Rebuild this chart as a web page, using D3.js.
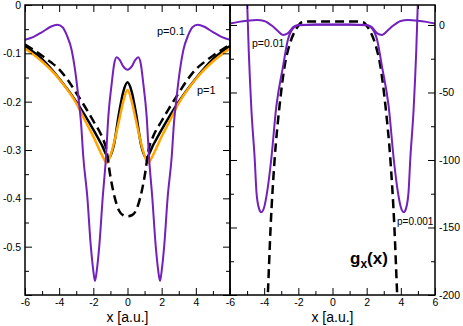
<!DOCTYPE html>
<html>
<head>
<meta charset="utf-8">
<script src="https://cdn.jsdelivr.net/npm/d3@7"></script>
<style>
  body { margin: 0; background: #fff; }
  text { font-family: "Liberation Sans", Arial, sans-serif; }
</style>
</head>
<body>
<div id="chart"></div>
<script>
const width = 463;
const height = 326;

// ---- data: left panel (potentials) ----
const purpleLX = [-6, -5.5, -5, -4.5, -4.1, -3.8, -3.56, -3.27, -3.07, -2.88, -2.72, -2.59, -2.35, -2.15, -2.0, -1.9, -1.8, -1.65, -1.45, -1.26, -1.12, -0.92, -0.78, -0.63, -0.45, -0.25, 0,
  0.25, 0.45, 0.63, 0.78, 0.92, 1.12, 1.26, 1.45, 1.65, 1.8, 1.9, 2.0, 2.15, 2.35, 2.59, 2.72, 2.88, 3.07, 3.27, 3.56, 3.8, 4.1, 4.5, 5, 5.5, 6];
const purpleLY = [-0.072, -0.066, -0.056, -0.045, -0.041, -0.046, -0.062, -0.093, -0.134, -0.189, -0.244, -0.313, -0.398, -0.498, -0.55, -0.571, -0.55, -0.498, -0.398, -0.315, -0.23, -0.161, -0.122, -0.108, -0.114, -0.127, -0.134,
  -0.127, -0.114, -0.108, -0.122, -0.161, -0.23, -0.315, -0.398, -0.498, -0.55, -0.571, -0.55, -0.498, -0.398, -0.313, -0.244, -0.189, -0.134, -0.093, -0.062, -0.046, -0.041, -0.045, -0.056, -0.066, -0.072];

const blackLX = [-6, -5, -4, -3, -2.5, -2, -1.5, -1.1, -0.8, -0.5, -0.25, 0, 0.25, 0.5, 0.8, 1.1, 1.5, 2, 2.5, 3, 4, 5, 6];
const blackLY = [-0.085, -0.112, -0.152, -0.2, -0.228, -0.258, -0.29, -0.316, -0.29, -0.225, -0.18, -0.16, -0.18, -0.225, -0.29, -0.316, -0.29, -0.258, -0.228, -0.2, -0.152, -0.112, -0.085];

const orangeLX = [-6, -5, -4, -3, -2.5, -2, -1.5, -1.2, -0.9, -0.5, -0.25, 0, 0.25, 0.5, 0.9, 1.2, 1.5, 2, 2.5, 3, 4, 5, 6];
const orangeLY = [-0.09, -0.117, -0.153, -0.203, -0.238, -0.272, -0.31, -0.327, -0.3, -0.24, -0.2, -0.176, -0.2, -0.24, -0.3, -0.327, -0.31, -0.272, -0.238, -0.203, -0.153, -0.117, -0.09];

const dashLX = [-6, -5.5, -5, -4.5, -4, -3.5, -3, -2.5, -2, -1.5, -1.25, -1, -0.75, -0.5, -0.25, 0, 0.25, 0.5, 0.75, 1, 1.25, 1.5, 2, 2.5, 3, 3.5, 4, 4.5, 5, 5.5, 6];
const dashLY = [-0.082, -0.093, -0.105, -0.118, -0.133, -0.155, -0.182, -0.21, -0.24, -0.272, -0.297, -0.355, -0.398, -0.425, -0.435, -0.437, -0.435, -0.425, -0.398, -0.355, -0.297, -0.272, -0.24, -0.21, -0.182, -0.155, -0.133, -0.118, -0.105, -0.093, -0.082];

// ---- data: right panel g_x(x) ----
const p01X = [-6, -5.5, -5, -4.4, -4, -3.5, -3.2, -2.9, -2.6, -2.3, -2, -1, 0, 1, 2, 2.3, 2.6, 2.9, 3.2, 3.5, 4, 4.4, 5, 5.5, 6];
const p01Y = [1, 2.3, 3.2, 3.7, 3, -1, -4.5, -7.4, -6, -1.5, 0, 0.3, 0.3, 0.3, 0, -1.5, -6, -7.4, -4.5, -1, 3, 3.7, 3.2, 2.3, 1];

const p001X = [-5.4, -5.2, -5.0, -4.9, -4.75, -4.55, -4.45, -4.3, -4.17, -4.0, -3.83, -3.59, -3.29, -2.9, -2.61, -2.31, -2, -1, 0, 1, 2, 2.31, 2.61, 2.9, 3.29, 3.59, 3.83, 4.0, 4.17, 4.3, 4.45, 4.55, 4.75, 4.9, 5.0, 5.2, 5.4];
const p001Y = [160, 70, 18, -20, -62, -100, -124, -136, -138.7, -135, -124, -100, -60.5, -31, -11, -2.4, -0.2, 0.2, 0.2, 0.2, -0.2, -2.4, -11, -31, -60.5, -100, -124, -135, -138.7, -136, -124, -100, -62, -20, 18, 70, 160];

const dashRX = [-4.0, -3.78, -3.62, -3.39, -3.1, -2.81, -2.5, -2.22, -2.0, -1.8, -1.5, 0, 1.5, 1.8, 2.0, 2.22, 2.5, 2.81, 3.1, 3.39, 3.62, 3.78, 4.0];
const dashRY = [-260, -198, -149, -100, -60, -31, -14, -5, -0.5, 2, 2.6, 2.6, 2.6, 2, -0.5, -5, -14, -31, -60, -100, -149, -198, -260];

// ---- ticks ----
const xMajor = [-6, -4, -2, 0, 2, 4, 6];
const xMinor = [-5, -3, -1, 1, 3, 5];
const yLeftMajor = [0, -0.1, -0.2, -0.3, -0.4, -0.5, -0.6];
const yLeftMinor = [-0.05, -0.15, -0.25, -0.35, -0.45, -0.55];
const yRightMajor = [0, -50, -100, -150, -200];
const yRightMinor = [-25, -75, -125, -175];

const purple = "#7221bc";
const orange = "#ffa500";

const svg = d3.select("#chart").append("svg")
    .attr("width", width)
    .attr("height", height);

const yTop = 5, yBottom = 295;
const xL = d3.scaleLinear().domain([-6, 6]).range([25, 230]);
const xR = d3.scaleLinear().domain([-6, 6]).range([230, 435]);
const yL = d3.scaleLinear().domain([-0.6, 0]).range([yBottom, yTop]);
const yR = d3.scaleLinear().domain([-200, 14.8]).range([yBottom, yTop]);

const defs = svg.append("defs");
defs.append("clipPath").attr("id", "clipL").append("rect")
    .attr("x", 25).attr("y", yTop).attr("width", 205).attr("height", yBottom - yTop);
defs.append("clipPath").attr("id", "clipR").append("rect")
    .attr("x", 230).attr("y", yTop).attr("width", 205).attr("height", yBottom - yTop);

function drawLine(g, x, y, xs, ys, color, w, dash) {
    const line = d3.line()
        .x(d => x(d[0]))
        .y(d => y(d[1]))
        .curve(d3.curveMonotoneX);
    g.append("path")
        .datum(xs.map((v, i) => [v, ys[i]]))
        .attr("fill", "none")
        .attr("stroke", color)
        .attr("stroke-width", w)
        .attr("stroke-dasharray", dash || null)
        .attr("d", line);
}

// left panel curves
const gL = svg.append("g").attr("clip-path", "url(#clipL)");
drawLine(gL, xL, yL, blackLX, blackLY, "#000", 2.5);
drawLine(gL, xL, yL, orangeLX, orangeLY, orange, 2.5);
drawLine(gL, xL, yL, dashLX, dashLY, "#000", 2.5, "9,5");
drawLine(gL, xL, yL, purpleLX, purpleLY, purple, 2);

// right panel curves
const gR = svg.append("g").attr("clip-path", "url(#clipR)");
drawLine(gR, xR, yR, dashRX, dashRY, "#000", 2.5, "9,5");
drawLine(gR, xR, yR, p001X, p001Y, purple, 2);
drawLine(gR, xR, yR, p01X, p01Y, purple, 2);

// axes with mirrored inward ticks
function axes(x, y, yMajor, yMinor, labelSide, xLabels) {
    const x0 = x.range()[0], x1 = x.range()[1];
    const fmt = d => String(d);

    const addAxis = (axis, tx, ty) => {
        const g = svg.append("g").attr("transform", `translate(${tx},${ty})`).call(axis);
        g.select(".domain").remove();
        g.selectAll("line").attr("stroke", "#000").attr("stroke-width", 1);
        g.selectAll("text").attr("font-size", 10.5).attr("font-family", "Liberation Sans, Arial, sans-serif");
        return g;
    };

    // bottom
    addAxis(d3.axisBottom(x).tickValues(xMajor).tickSize(-7).tickPadding(4)
        .tickFormat(d => xLabels.includes(d) ? fmt(d) : ""), 0, yBottom);
    addAxis(d3.axisBottom(x).tickValues(xMinor).tickSize(-4).tickFormat(""), 0, yBottom);
    // top
    addAxis(d3.axisTop(x).tickValues(xMajor).tickSize(-7).tickFormat(""), 0, yTop);
    addAxis(d3.axisTop(x).tickValues(xMinor).tickSize(-4).tickFormat(""), 0, yTop);

    const labelled = yMajor.slice(0, 6).concat(labelSide === "right" ? [-200] : []);
    const yFmt = d => labelled.includes(d) ? fmt(d) : "";
    if (labelSide === "left") {
        addAxis(d3.axisLeft(y).tickValues(yMajor).tickSize(-7).tickPadding(4).tickFormat(yFmt), x0, 0);
        addAxis(d3.axisRight(y).tickValues(yMajor).tickSize(-7).tickFormat(""), x1, 0);
    } else {
        addAxis(d3.axisLeft(y).tickValues(yMajor).tickSize(-7).tickFormat(""), x0, 0);
        addAxis(d3.axisRight(y).tickValues(yMajor).tickSize(-7).tickPadding(4).tickFormat(yFmt), x1, 0);
    }
    addAxis(d3.axisLeft(y).tickValues(yMinor).tickSize(-4).tickFormat(""), x0, 0);
    addAxis(d3.axisRight(y).tickValues(yMinor).tickSize(-4).tickFormat(""), x1, 0);

    svg.append("rect")
        .attr("x", x0).attr("y", yTop)
        .attr("width", x1 - x0).attr("height", yBottom - yTop)
        .attr("fill", "none").attr("stroke", "#000").attr("stroke-width", 1.5);

    svg.append("text")
        .attr("x", (x0 + x1) / 2).attr("y", 321.5)
        .attr("text-anchor", "middle")
        .attr("font-size", 14)
        .text("x [a.u.]");
}

axes(xL, yL, yLeftMajor, yLeftMinor, "left", [-6, -4, -2, 0, 2, 4]);
axes(xR, yR, yRightMajor, yRightMinor, "right", xMajor);

// annotations
const note = (x, y, s, t) => svg.append("text").attr("x", x).attr("y", y)
    .attr("font-size", s).text(t);
note(157, 35, 11, "p=0.1");
note(197, 94, 11, "p=1");
note(252, 46.5, 10.5, "p=0.01");
note(397, 225, 10, "p=0.001");

const gx = svg.append("text").attr("x", 350).attr("y", 264)
    .attr("font-size", 17).attr("font-weight", "bold");
gx.append("tspan").text("g");
gx.append("tspan").attr("font-size", 12).attr("dy", 4).text("x");
gx.append("tspan").attr("dy", -4).text("(x)");
</script>
</body>
</html>
